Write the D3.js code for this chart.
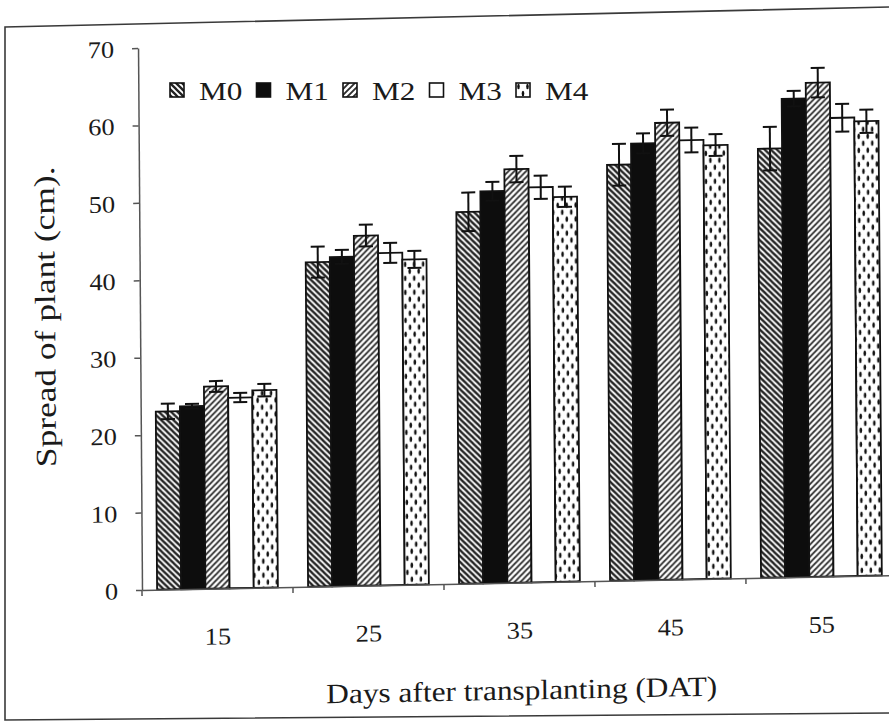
<!DOCTYPE html>
<html>
<head>
<meta charset="utf-8">
<script src="https://cdn.jsdelivr.net/npm/d3@7"></script>
<style>
  html, body { margin: 0; padding: 0; background: #fff; }
  svg { display: block; }
  text { font-family: "Liberation Serif", "Times New Roman", serif; fill: #1a1a1a; }
</style>
</head>
<body>
<svg id="chart" width="889" height="722"></svg>
<script>
// Days after transplanting (categories) and the five treatments
const days = ["15", "25", "35", "45", "55"];
const treatments = ["M0", "M1", "M2", "M3", "M4"];

// Mean spread of plant (cm) per treatment, one value per day
const m0 = [23.0, 41.9, 48.0, 53.7, 55.4];
const m1 = [23.6, 42.5, 50.6, 56.4, 61.8];
const m2 = [26.1, 45.2, 53.4, 59.0, 63.8];
const m3 = [24.6, 42.9, 51.0, 56.7, 59.2];
const m4 = [25.5, 42.0, 49.7, 56.0, 58.7];

// Error bar half-lengths (cm)
const e0 = [1.0, 2.0, 2.5, 2.7, 2.8];
const e1 = [0.3, 0.9, 1.2, 1.3, 1.0];
const e2 = [0.7, 1.4, 1.7, 1.7, 1.9];
const e3 = [0.6, 1.3, 1.5, 1.6, 1.8];
const e4 = [0.8, 1.1, 1.3, 1.4, 1.5];

// Y axis tick values
const yTicks = [0, 10, 20, 30, 40, 50, 60, 70];

const means = { M0: m0, M1: m1, M2: m2, M3: m3, M4: m4 };
const errs = { M0: e0, M1: e1, M2: e2, M3: e3, M4: e4 };

const rows = [];
days.forEach((d, i) => treatments.forEach(t => rows.push({ day: d, t, v: means[t][i], e: errs[t][i] })));

const svg = d3.select("#chart");

// Fill patterns for the treatments
const defs = svg.append("defs");
function hatch(id, path, sw, color) {
  const p = defs.append("pattern").attr("id", id)
    .attr("patternUnits", "userSpaceOnUse").attr("width", 6).attr("height", 6);
  p.append("rect").attr("width", 6).attr("height", 6).attr("fill", "#fff");
  p.append("path").attr("d", path).attr("stroke", color).attr("stroke-width", sw).attr("fill", "none");
}
hatch("pM0", "M-1,-1 L7,7 M-1,5 L1,7 M5,-1 L7,1", 2.3, "#222");
hatch("pM2", "M-1,7 L7,-1 M-1,1 L1,-1 M5,7 L7,5", 1.9, "#2e2e2e");
const dots = defs.append("pattern").attr("id", "pM4")
  .attr("patternUnits", "userSpaceOnUse").attr("width", 9).attr("height", 14);
dots.append("rect").attr("width", 9).attr("height", 14).attr("fill", "#fff");
dots.append("ellipse").attr("cx", 2.5).attr("cy", 3.5).attr("rx", 1.3).attr("ry", 2.8).attr("fill", "#111");
dots.append("ellipse").attr("cx", 7).attr("cy", 10.5).attr("rx", 1.3).attr("ry", 2.8).attr("fill", "#111");

const fills = { M0: "url(#pM0)", M1: "#0d0d0d", M2: "url(#pM2)", M3: "#fff", M4: "url(#pM4)" };

// Widen text along its reading direction
function stretch(sel, k) {
  sel.each(function () {
    const L = this.getComputedTextLength();
    this.setAttribute("textLength", L * k);
    this.setAttribute("lengthAdjust", "spacingAndGlyphs");
  });
}

// Outer chart border
svg.append("path")
  .attr("d", "M889,7 L5,27 L5,720 L889,713")
  .attr("fill", "none").attr("stroke", "#3a3a3a").attr("stroke-width", 1.6);

// Plot frame, slightly tilted like the printed page
const ox = 142, oy = 590;
const g = svg.append("g")
  .attr("transform", `translate(${ox},${oy}) rotate(-0.42) skewY(-0.71) translate(${-ox},${-oy})`);

const x0 = d3.scaleBand().domain(days).range([ox, 897]).paddingInner(0.2).paddingOuter(0.1);
const x1 = d3.scaleBand().domain(treatments).range([0, x0.bandwidth()]);
const y = d3.scaleLinear().domain([0, 70]).range([oy, 48]);

// Bars
g.append("g").selectAll("rect").data(rows).join("rect")
  .attr("x", d => x0(d.day) + x1(d.t))
  .attr("y", d => y(d.v))
  .attr("width", x1.bandwidth())
  .attr("height", d => y(0) - y(d.v))
  .attr("fill", d => fills[d.t])
  .attr("stroke", "#111").attr("stroke-width", 1.8);

// Error bars
const eb = g.append("g").attr("stroke", "#111").attr("stroke-width", 2);
const cx = d => x0(d.day) + x1(d.t) + x1.bandwidth() / 2;
eb.selectAll("line.v").data(rows).join("line").attr("class", "v")
  .attr("x1", cx).attr("x2", cx)
  .attr("y1", d => y(d.v - d.e)).attr("y2", d => y(d.v + d.e));
eb.selectAll("line.t").data(rows).join("line").attr("class", "t")
  .attr("x1", d => cx(d) - 7).attr("x2", d => cx(d) + 7)
  .attr("y1", d => y(d.v + d.e)).attr("y2", d => y(d.v + d.e));
eb.selectAll("line.b").data(rows).join("line").attr("class", "b")
  .attr("x1", d => cx(d) - 7).attr("x2", d => cx(d) + 7)
  .attr("y1", d => y(d.v - d.e)).attr("y2", d => y(d.v - d.e));

// Y axis
const yAxis = g.append("g").attr("transform", `translate(${ox},0)`)
  .call(d3.axisLeft(y).tickValues(yTicks).tickSize(6).tickPadding(18).tickSizeOuter(0));
yAxis.select(".domain").attr("stroke", "#555").attr("stroke-width", 1.5);
yAxis.selectAll(".tick line").attr("stroke", "#555").attr("stroke-width", 1.5);
yAxis.selectAll(".tick text").attr("font-size", 24).attr("fill", "#1a1a1a").attr("dy", "0.36em")
  .call(stretch, 1.1);
yAxis.append("line").attr("x1", 0).attr("x2", 0).attr("y1", oy).attr("y2", oy + 6)
  .attr("stroke", "#555").attr("stroke-width", 1.5);

// X axis with labels centred on each group and ticks between groups
const xAxis = g.append("g").attr("transform", `translate(0,${oy})`)
  .call(d3.axisBottom(x0).tickSize(0).tickPadding(39).tickSizeOuter(0));
xAxis.select(".domain").attr("stroke", "#555").attr("stroke-width", 1.5);
xAxis.selectAll(".tick text").attr("font-size", 24).attr("fill", "#1a1a1a")
  .call(stretch, 1.1);
const bounds = days.map((d, i) => x0.range()[0] + x0.step() * (i + 1));
xAxis.selectAll("line.sep").data(bounds).join("line").attr("class", "sep")
  .attr("x1", d => d).attr("x2", d => d).attr("y1", 0).attr("y2", 6)
  .attr("stroke", "#555").attr("stroke-width", 1.5);

// Axis titles
g.append("text").attr("x", 521).attr("y", 707).attr("text-anchor", "middle")
  .attr("font-size", 28).text("Days after transplanting (DAT)").call(stretch, 1.12);
g.append("text").attr("transform", "translate(57,315) rotate(-90)").attr("text-anchor", "middle")
  .attr("font-size", 29).text("Spread of plant (cm).").call(stretch, 1.22);

// Legend
const leg = svg.append("g");
const legX = d3.scalePoint().domain(treatments).range([170, 516]);
const li = leg.selectAll("g").data(treatments).join("g")
  .attr("transform", d => `translate(${legX(d)},83)`);
li.append("rect").attr("width", 14).attr("height", 14)
  .attr("fill", d => fills[d]).attr("stroke", "#111").attr("stroke-width", 1.6);
li.append("text").attr("x", 29).attr("y", 17).attr("font-size", 26).text(d => d).call(stretch, 1.2);
</script>
</body>
</html>
